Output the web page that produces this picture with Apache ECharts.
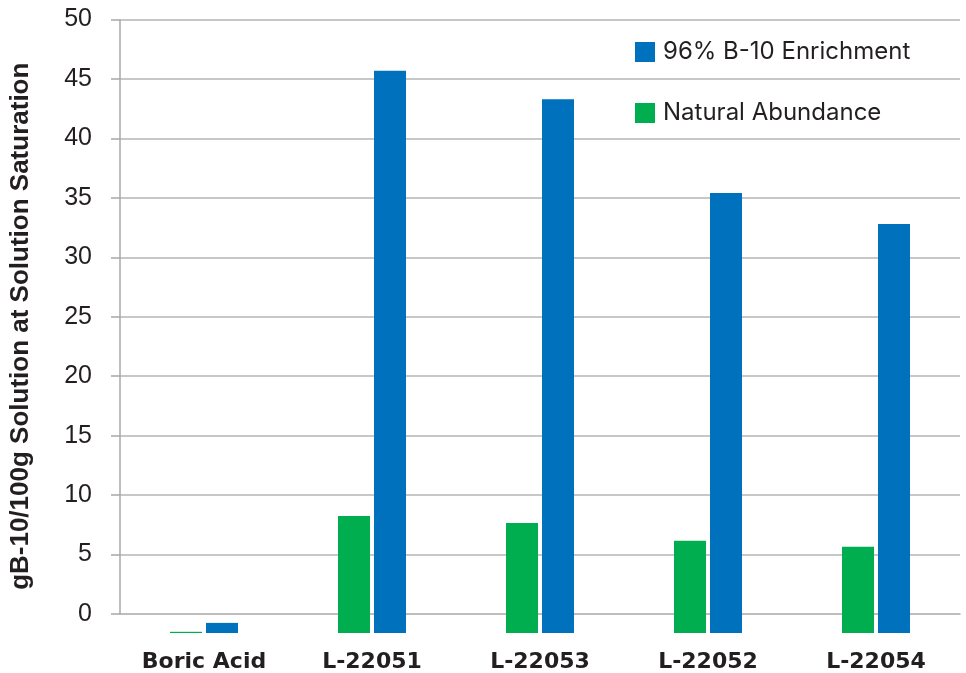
<!DOCTYPE html>
<html>
<head>
<meta charset="utf-8">
<script src="https://cdn.jsdelivr.net/npm/echarts@6/dist/echarts.min.js"></script>
<style>
  html, body { margin: 0; padding: 0; background: #ffffff; }
  #chart { width: 966px; height: 673px; }
</style>
</head>
<body>
<div id="chart"></div>
<script>
const categories = ['Boric Acid', 'L-22051', 'L-22053', 'L-22052', 'L-22054'];
const naturalAbundance = [-1.5, 8.25, 7.65, 6.15, 5.65];
const enriched96 = [-0.75, 45.7, 43.3, 35.4, 32.8];
const yTicks = [0, 5, 10, 15, 20, 25, 30, 35, 40, 45, 50];
const yMin = -1.6;
const yMax = 50;
const yTitle = 'gB-10/100g Solution at Solution Saturation';
const seriesNames = ['Natural Abundance', '96% B-10 Enrichment'];

const chart = echarts.init(document.getElementById('chart'), null, { renderer: 'canvas' });
const gridColor = '#b4b4b4';
// no grid line at the zero tick, grid lines at every other tick
const splitColors = yTicks.map(function (v) { return v === 0 ? 'rgba(0,0,0,0)' : gridColor; });
const option = {
  animation: false,
  backgroundColor: '#ffffff',
  grid: { left: 120, right: 6, top: 19.5, bottom: 40, containLabel: false },
  legend: {
    orient: 'vertical',
    left: 630,
    top: 35,
    itemWidth: 20,
    itemHeight: 20,
    itemGap: 37,
    icon: 'rect',
    data: [seriesNames[1], seriesNames[0]],
    textStyle: { fontFamily: 'Inter', fontSize: 24, lineHeight: 20, color: '#231f20', padding: [0, 0, 0, 3] }
  },
  xAxis: {
    type: 'category',
    data: categories,
    axisLine: { lineStyle: { color: '#a8a8a8', width: 1.5 } },
    axisTick: { length: 10, lineStyle: { color: '#a8a8a8', width: 1.5 } },
    axisLabel: { fontFamily: 'DejaVu Sans', fontWeight: 'bold', fontSize: 22, color: '#231f20', margin: 18 }
  },
  yAxis: {
    type: 'value',
    min: yMin,
    max: yMax,
    startValue: yMin,
    name: yTitle,
    nameLocation: 'middle',
    nameGap: 86,
    nameTextStyle: { fontFamily: 'Liberation Sans', fontWeight: 'bold', fontSize: 26, color: '#231f20' },
    axisLine: { show: false },
    axisTick: { show: true, length: 9, customValues: yTicks, lineStyle: { color: '#a8a8a8', width: 1.5 } },
    axisLabel: { customValues: yTicks, fontFamily: 'Liberation Sans', fontSize: 25, color: '#231f20', margin: 28 },
    splitLine: { show: true, lineStyle: { color: splitColors, width: 1.5 } }
  },
  series: [
    { name: seriesNames[0], type: 'bar', data: naturalAbundance, barWidth: 32, barGap: '12.5%', itemStyle: { color: '#00ad4f' } },
    { name: seriesNames[1], type: 'bar', data: enriched96, barWidth: 32, barGap: '12.5%', itemStyle: { color: '#0071bc' } }
  ]
};
chart.setOption(option);

// vertical y-axis line from the top tick down to the 0 tick, positioned via the axis scale
const topPt = chart.convertToPixel({ yAxisIndex: 0 }, yTicks[yTicks.length - 1]);
const zeroPt = chart.convertToPixel({ yAxisIndex: 0 }, yTicks[0]);
const leftX = chart.getModel().getComponent('grid', 0).coordinateSystem.getRect().x;
chart.setOption({
  graphic: [{
    type: 'line',
    shape: { x1: leftX, y1: topPt, x2: leftX, y2: zeroPt },
    style: { stroke: '#a8a8a8', lineWidth: 1.5 },
    z: 10
  }]
});
</script>
</body>
</html>
